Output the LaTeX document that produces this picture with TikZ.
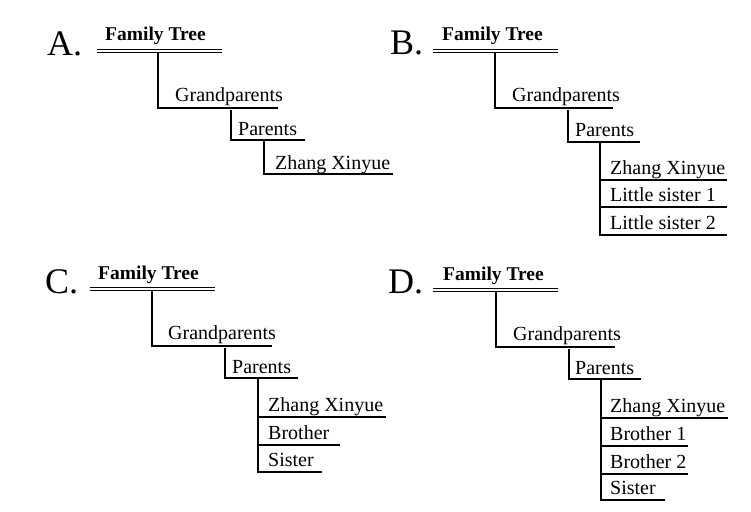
\documentclass[tikz,border=0pt]{standalone}
\usepackage{fontspec}
\setmainfont{Liberation Serif}
\begin{document}
\begin{tikzpicture}[x=1pt,y=-1pt,
  lab/.style={anchor=base west, inner sep=0pt, font=\fontsize{36}{40}\selectfont},
  ttl/.style={anchor=base west, inner sep=0pt, font=\bfseries\fontsize{19.5}{22}\selectfont},
  itm/.style={anchor=base west, inner sep=0pt, font=\fontsize{20}{22}\selectfont},
  ln/.style={line width=1.3pt, line join=miter},
  dbl/.style={double, line width=1.1pt, double distance=1.6pt},
  thk/.style={line width=2.8pt}]
\useasboundingbox[fill=white] (0,0) rectangle (751,511);

% ---------------- Panel A ----------------
\node[lab] (A-lab) at (47,56) {A.};
\node[ttl] (A-ttl) at (105,41) {Family Tree};
\coordinate (A-t0) at (97,51); \coordinate (A-t1) at (222,51);
\draw[dbl] (A-t0) -- (A-t1);
\coordinate (A-v0) at (158,53); \coordinate (A-g0) at (158,108);
\coordinate (A-g1) at (173,108); \coordinate (A-g2) at (278,108);
\draw[ln] (A-v0) -- (A-g0) -- (A-g1);
\draw[thk] (A-g1) -- (A-g2);
\node[itm] (A-gp) at (175,101) {Grandparents};
\coordinate (A-p0) at (231,110); \coordinate (A-p1) at (231,140); \coordinate (A-p2) at (305,140);
\draw[ln] (A-p0) -- (A-p1) -- (A-p2);
\node[itm] (A-par) at (238,135) {Parents};
\coordinate (A-c0) at (264,140); \coordinate (A-c1) at (264,174); \coordinate (A-c2) at (393,174);
\draw[ln] (A-c0) -- (A-c1) -- (A-c2);
\node[itm] (A-zx) at (275,169) {Zhang Xinyue};

% ---------------- Panel B ----------------
\node[lab] (B-lab) at (390,55) {B.};
\node[ttl] (B-ttl) at (442,41) {Family Tree};
\coordinate (B-t0) at (433,51); \coordinate (B-t1) at (558,51);
\draw[dbl] (B-t0) -- (B-t1);
\coordinate (B-v0) at (495,53); \coordinate (B-g0) at (495,108);
\coordinate (B-g1) at (510,108); \coordinate (B-g2) at (613,108);
\draw[ln] (B-v0) -- (B-g0) -- (B-g1);
\draw[thk] (B-g1) -- (B-g2);
\node[itm] (B-gp) at (512,101) {Grandparents};
\coordinate (B-p0) at (568,110); \coordinate (B-p1) at (568,142); \coordinate (B-p2) at (640,142);
\draw[ln] (B-p0) -- (B-p1) -- (B-p2);
\node[itm] (B-par) at (575,136) {Parents};
\coordinate (B-c0) at (600,142); \coordinate (B-c3) at (600,235);
\coordinate (B-c1) at (600,180); \coordinate (B-c2) at (600,207);
\coordinate (B-e1) at (727,180); \coordinate (B-e2) at (727,207); \coordinate (B-e3) at (727,235);
\draw[ln] (B-c0) -- (B-c3) -- (B-e3);
\draw[ln] (B-c1) -- (B-e1);
\draw[ln] (B-c2) -- (B-e2);
\node[itm] (B-zx) at (610,174) {Zhang Xinyue};
\node[itm] (B-s1) at (610,201) {Little sister 1};
\node[itm] (B-s2) at (610,229) {Little sister 2};

% ---------------- Panel C ----------------
\node[lab] (C-lab) at (45,293) {C.};
\node[ttl] (C-ttl) at (98,279) {Family Tree};
\coordinate (C-t0) at (90,289); \coordinate (C-t1) at (215,289);
\draw[dbl] (C-t0) -- (C-t1);
\coordinate (C-v0) at (152,291); \coordinate (C-g0) at (152,346);
\coordinate (C-g1) at (167,346); \coordinate (C-g2) at (272,346);
\draw[ln] (C-v0) -- (C-g0) -- (C-g1);
\draw[thk] (C-g1) -- (C-g2);
\node[itm] (C-gp) at (168,339) {Grandparents};
\coordinate (C-p0) at (225,348); \coordinate (C-p1) at (225,378); \coordinate (C-p2) at (298,378);
\draw[ln] (C-p0) -- (C-p1) -- (C-p2);
\node[itm] (C-par) at (232,373) {Parents};
\coordinate (C-c0) at (258,378); \coordinate (C-c3) at (258,472);
\coordinate (C-c1) at (258,417); \coordinate (C-c2) at (258,445);
\coordinate (C-e1) at (386,417); \coordinate (C-e2) at (340,445); \coordinate (C-e3) at (322,472);
\draw[ln] (C-c0) -- (C-c3) -- (C-e3);
\draw[ln] (C-c1) -- (C-e1);
\draw[ln] (C-c2) -- (C-e2);
\node[itm] (C-zx) at (268,411) {Zhang Xinyue};
\node[itm] (C-br) at (268,439) {Brother};
\node[itm] (C-si) at (268,466) {Sister};

% ---------------- Panel D ----------------
\node[lab] (D-lab) at (388,293) {D.};
\node[ttl] (D-ttl) at (443,280) {Family Tree};
\coordinate (D-t0) at (433,290); \coordinate (D-t1) at (558,290);
\draw[dbl] (D-t0) -- (D-t1);
\coordinate (D-v0) at (496,292); \coordinate (D-g0) at (496,347);
\coordinate (D-g1) at (510,347); \coordinate (D-g2) at (615,347);
\draw[ln] (D-v0) -- (D-g0) -- (D-g1);
\draw[thk] (D-g1) -- (D-g2);
\node[itm] (D-gp) at (513,340) {Grandparents};
\coordinate (D-p0) at (569,349); \coordinate (D-p1) at (569,379); \coordinate (D-p2) at (641,379);
\draw[ln] (D-p0) -- (D-p1) -- (D-p2);
\node[itm] (D-par) at (575,374) {Parents};
\coordinate (D-c0) at (601,379); \coordinate (D-c4) at (601,500);
\coordinate (D-c1) at (601,418); \coordinate (D-c2) at (601,446); \coordinate (D-c3) at (601,474);
\coordinate (D-e1) at (728,418); \coordinate (D-e2) at (688,446);
\coordinate (D-e3) at (688,474); \coordinate (D-e4) at (665,500);
\draw[ln] (D-c0) -- (D-c4) -- (D-e4);
\draw[ln] (D-c1) -- (D-e1);
\draw[ln] (D-c2) -- (D-e2);
\draw[ln] (D-c3) -- (D-e3);
\node[itm] (D-zx) at (610,412) {Zhang Xinyue};
\node[itm] (D-b1) at (610,440) {Brother 1};
\node[itm] (D-b2) at (610,468) {Brother 2};
\node[itm] (D-si) at (610,494) {Sister};
\end{tikzpicture}
\end{document}
